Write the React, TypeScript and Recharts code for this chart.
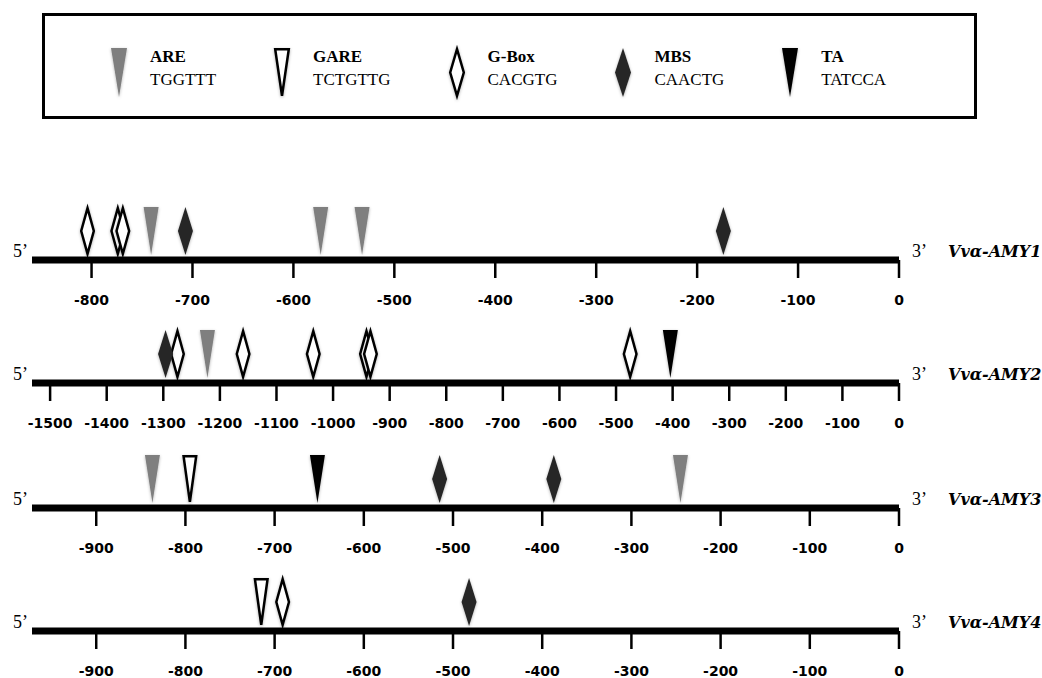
import React from 'react'
import { ScatterChart, Scatter, XAxis, YAxis, Legend, Customized } from 'recharts'

// motif legend
const motifs = ['ARE', 'GARE', 'G-Box', 'MBS', 'TA']
const motifSeqs = ['TGGTTT', 'TCTGTTG', 'CACGTG', 'CAACTG', 'TATCCA']

const genes = ['Vvα-AMY1', 'Vvα-AMY2', 'Vvα-AMY3', 'Vvα-AMY4']

// position of each site (bp upstream)
const amy1Sites = [
  { pos: -804, motif: 'G-Box' },
  { pos: -774, motif: 'G-Box' },
  { pos: -769, motif: 'G-Box' },
  { pos: -741, motif: 'ARE' },
  { pos: -707, motif: 'MBS' },
  { pos: -573, motif: 'ARE' },
  { pos: -532, motif: 'ARE' },
  { pos: -174, motif: 'MBS' }
]
const amy2Sites = [
  { pos: -1296, motif: 'MBS' },
  { pos: -1275, motif: 'G-Box' },
  { pos: -1222, motif: 'ARE' },
  { pos: -1159, motif: 'G-Box' },
  { pos: -1035, motif: 'G-Box' },
  { pos: -941, motif: 'G-Box' },
  { pos: -934, motif: 'G-Box' },
  { pos: -475, motif: 'G-Box' },
  { pos: -404, motif: 'TA' }
]
const amy3Sites = [
  { pos: -837, motif: 'ARE' },
  { pos: -795, motif: 'GARE' },
  { pos: -652, motif: 'TA' },
  { pos: -515, motif: 'MBS' },
  { pos: -387, motif: 'MBS' },
  { pos: -245, motif: 'ARE' }
]
const amy4Sites = [
  { pos: -715, motif: 'GARE' },
  { pos: -691, motif: 'G-Box' },
  { pos: -482, motif: 'MBS' }
]

const promoterStart = [-859, -1532, -972, -972]

const ticks1 = [-800, -700, -600, -500, -400, -300, -200, -100, 0]
const ticks2 = [-1500, -1400, -1300, -1200, -1100, -1000, -900, -800, -700, -600, -500, -400, -300, -200, -100, 0]
const ticks3 = [-900, -800, -700, -600, -500, -400, -300, -200, -100, 0]
const ticks4 = [-900, -800, -700, -600, -500, -400, -300, -200, -100, 0]

const motifStyle: Record<string, { kind: string; fill: string; stroke: string }> = {
  ARE: { kind: 'tri', fill: '#7f7f7f', stroke: 'none' },
  GARE: { kind: 'tri', fill: '#fff', stroke: '#000' },
  'G-Box': { kind: 'dia', fill: '#fff', stroke: '#000' },
  MBS: { kind: 'dia', fill: '#262626', stroke: 'none' },
  TA: { kind: 'tri', fill: '#000', stroke: 'none' }
}

const Glyph = ({ motif, cx, top, bottom, half }: any) => {
  const st = motifStyle[motif]
  const outlined = st.stroke !== 'none'
  const t = outlined ? top + 1.2 : top
  const b = outlined ? bottom - 1.2 : bottom
  const h = outlined ? half - 1.2 : half
  const mid = (t + b) / 2
  const pts =
    st.kind === 'tri'
      ? `${cx - h},${t} ${cx + h},${t} ${cx},${b}`
      : `${cx},${t} ${cx + h},${mid} ${cx},${b} ${cx - h},${mid}`
  return (
    <polygon
      points={pts}
      fill={st.fill}
      stroke={st.stroke}
      strokeWidth={2.5}
      filter="url(#motifShadow)"
    />
  )
}

const LegendBox = () => (
  <div
    style={{
      boxSizing: 'border-box',
      width: 935,
      height: 106,
      border: '3px solid #000',
      background: '#fff',
      display: 'flex',
      alignItems: 'flex-start',
      paddingTop: 29,
      paddingLeft: 66,
      gap: 58,
      fontFamily: '"Liberation Serif", serif',
      fontSize: 17,
      lineHeight: '23px',
      color: '#000',
      textAlign: 'left'
    }}
  >
    {motifs.map((m, i) => (
      <div key={m} style={{ display: 'flex', alignItems: 'flex-start', gap: 23 }}>
        <svg width={16} height={50} style={{ marginTop: 3, overflow: 'visible' }}>
          <Glyph motif={m} cx={8} top={0} bottom={49} half={8} />
        </svg>
        <div>
          <div style={{ fontWeight: 'bold' }}>{m}</div>
          <div>{motifSeqs[i]}</div>
        </div>
      </div>
    ))}
  </div>
)

const Track = ({ idx, sites, ticks, height, marginTop, legend }: any) => {
  const plotH = 60
  const axisY = marginTop + plotH
  const serif = '"Liberation Serif", serif'
  return (
    <ScatterChart
      width={1042}
      height={height}
      margin={{ top: marginTop, right: 143, bottom: 0, left: 32 }}
    >
      <XAxis
        type="number"
        dataKey="x"
        domain={[promoterStart[idx], 0]}
        ticks={ticks}
        interval={0}
        height={height - marginTop - plotH}
        axisLine={{ stroke: '#000', strokeWidth: 7 }}
        tickLine={{ stroke: '#000', strokeWidth: 2.5 }}
        tickSize={18}
        tickMargin={17}
        tick={{ fill: '#000', fontSize: 14, fontWeight: 'bold', fontFamily: '"DejaVu Sans", sans-serif' }}
      />
      <YAxis type="number" dataKey="y" domain={[0, 1]} hide />
      {motifs.map((m) => (
        <Scatter
          key={m}
          name={m}
          data={sites.filter((s: any) => s.motif === m).map((s: any) => ({ x: s.pos, y: 0 }))}
          isAnimationActive={false}
          shape={(p: any) => <Glyph motif={m} cx={p.cx} top={p.cy - 53} bottom={p.cy - 5} half={7.5} />}
        />
      ))}
      <Customized
        component={() => (
          <g>
            <text x={13} y={axisY - 3.5} fontFamily={serif} fontSize={18} fill="#000">5’</text>
            <text x={912} y={axisY - 3.5} fontFamily={serif} fontSize={18} fill="#000">3’</text>
            <text
              x={948}
              y={axisY - 3.5}
              fontFamily='"DejaVu Serif", serif'
              fontWeight="bold"
              fontStyle="italic"
              fontSize={16}
              fill="#000"
            >
              {genes[idx]}
            </text>
          </g>
        )}
      />
      {legend && (
        <Legend
          layout="horizontal"
          verticalAlign="middle"
          align="center"
          wrapperStyle={{ left: 42, top: 13, width: 935, height: 106 }}
          content={() => <LegendBox />}
        />
      )}
    </ScatterChart>
  )
}

export default function App() {
  return (
    <div style={{ position: 'absolute', left: 0, top: 0, width: 1042, height: 678, background: '#fff', overflow: 'hidden' }}>
      <svg width={0} height={0} style={{ position: 'absolute' }}>
        <defs>
          <filter id="motifShadow" x="-60%" y="-20%" width="220%" height="140%">
            <feDropShadow dx={0} dy={1} stdDeviation={1.4} floodColor="#000" floodOpacity={0.3} />
          </filter>
        </defs>
      </svg>
      <div style={{ position: 'absolute', left: 0, top: 0 }}>
        <Track idx={0} sites={amy1Sites} ticks={ticks1} height={310} marginTop={200} legend />
      </div>
      <div style={{ position: 'absolute', left: 0, top: 313 }}>
        <Track idx={1} sites={amy2Sites} ticks={ticks2} height={120} marginTop={10} />
      </div>
      <div style={{ position: 'absolute', left: 0, top: 438 }}>
        <Track idx={2} sites={amy3Sites} ticks={ticks3} height={120} marginTop={10} />
      </div>
      <div style={{ position: 'absolute', left: 0, top: 561 }}>
        <Track idx={3} sites={amy4Sites} ticks={ticks4} height={117} marginTop={10} />
      </div>
    </div>
  )
}
